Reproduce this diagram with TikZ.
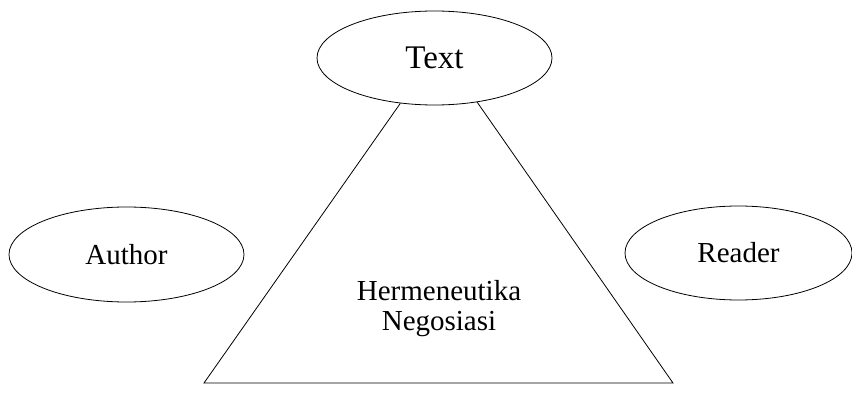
\documentclass[tikz,border=0pt]{standalone}
\usepackage{fontspec}
\setmainfont{Liberation Serif}
\usetikzlibrary{shapes.geometric}
\begin{document}
\begin{tikzpicture}[x=1pt,y=1pt,
  oval/.style={draw=black, line width=0.8pt, ellipse, inner sep=0pt, fill=white},
  edge/.style={draw=black, line width=0.8pt},
  lbl/.style={font=\fontsize{29}{30}\selectfont}]
\useasboundingbox (0,0) rectangle (852,394);
\node[oval, minimum width=235pt, minimum height=94pt, font=\fontsize{33}{36}\selectfont] (text) at (434.5,336) {Text};
\node[oval, lbl, minimum width=235pt, minimum height=95pt] (author) at (126.5,139.5) {Author};
\node[oval, lbl, minimum width=227pt, minimum height=94pt] (reader) at (738.5,141) {Reader};
\node[lbl, align=center] (herm) at (439,85) {Hermeneutika\\Negosiasi};
\coordinate (bl) at (204,11);
\coordinate (br) at (673,11);
\draw[edge] (text.233.7) -- (bl) -- (br) -- (text.314.7);
\end{tikzpicture}
\end{document}
